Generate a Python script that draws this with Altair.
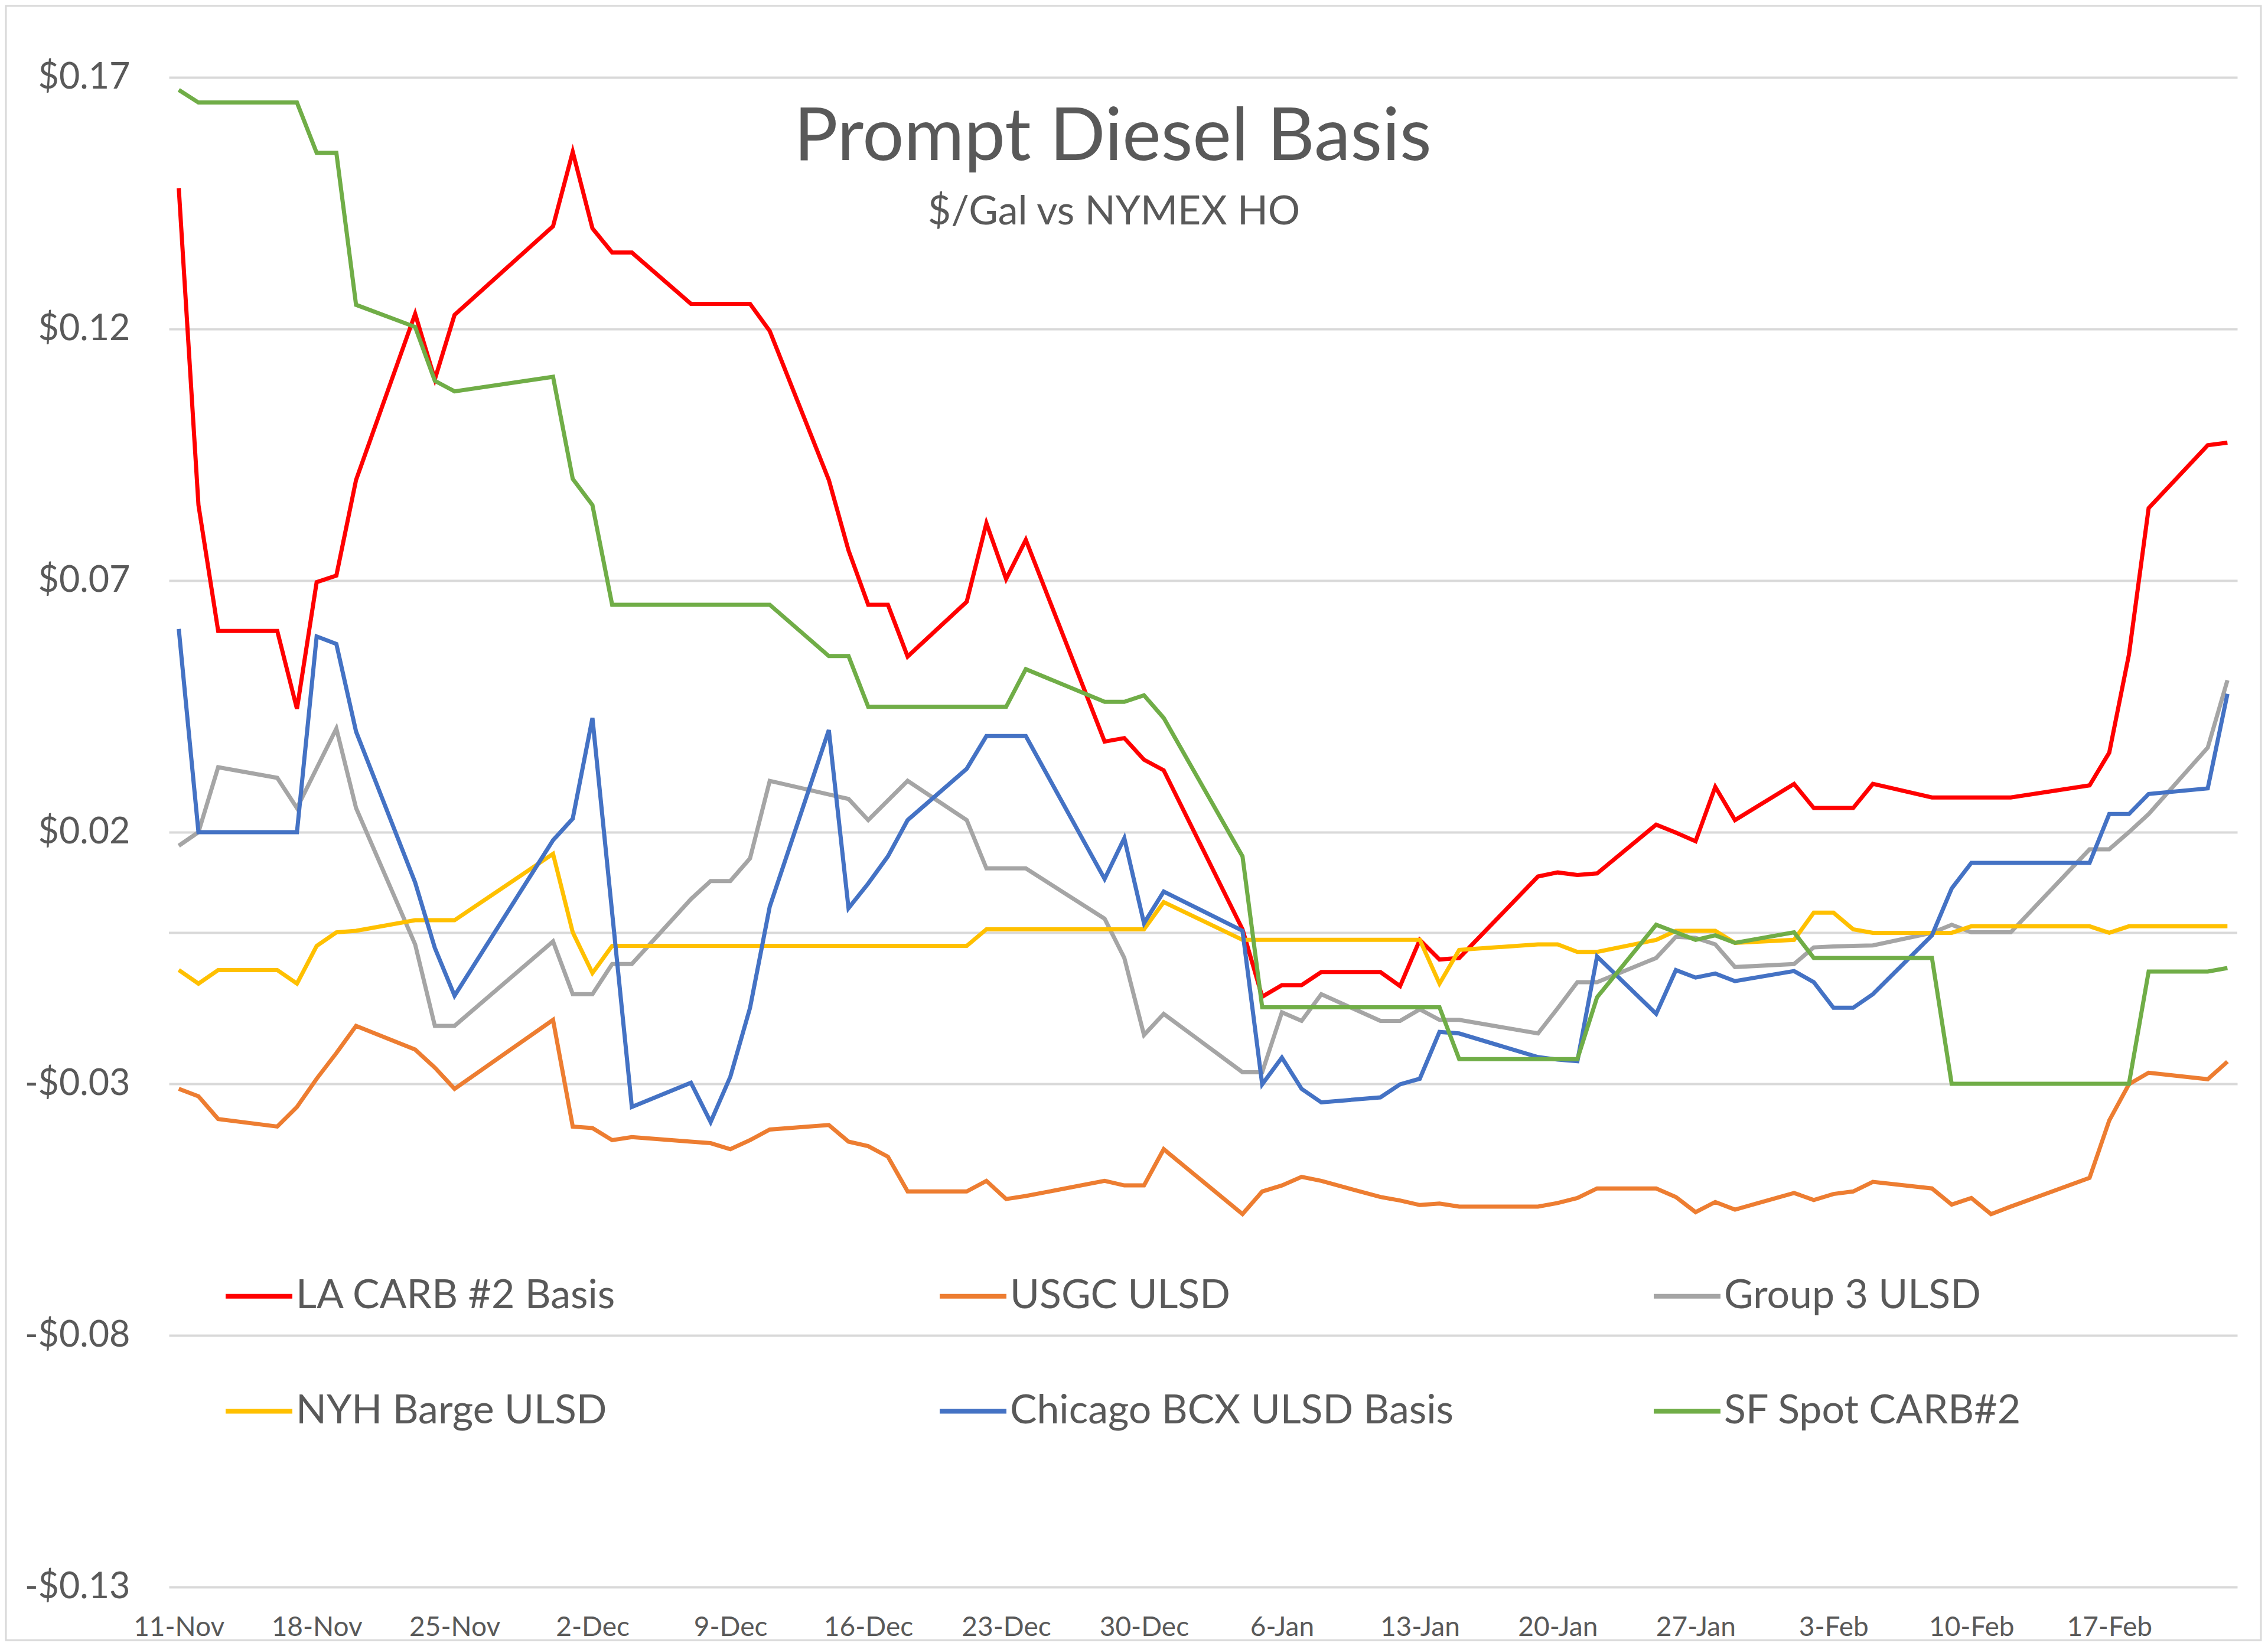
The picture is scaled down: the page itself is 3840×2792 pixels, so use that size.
import altair as alt
import pandas as pd

# ---------------- data ----------------
dates = [
    "2020-11-11", "2020-11-12", "2020-11-13", "2020-11-16", "2020-11-17", "2020-11-18",
    "2020-11-19", "2020-11-20", "2020-11-23", "2020-11-24", "2020-11-25", "2020-11-30",
    "2020-12-01", "2020-12-02", "2020-12-03", "2020-12-04", "2020-12-07", "2020-12-08",
    "2020-12-09", "2020-12-10", "2020-12-11", "2020-12-14", "2020-12-15", "2020-12-16",
    "2020-12-17", "2020-12-18", "2020-12-21", "2020-12-22", "2020-12-23", "2020-12-24",
    "2020-12-28", "2020-12-29", "2020-12-30", "2020-12-31",
    "2021-01-04", "2021-01-05", "2021-01-06", "2021-01-07", "2021-01-08", "2021-01-11",
    "2021-01-12", "2021-01-13", "2021-01-14", "2021-01-15", "2021-01-19", "2021-01-20",
    "2021-01-21", "2021-01-22", "2021-01-25", "2021-01-26", "2021-01-27", "2021-01-28",
    "2021-01-29",
    "2021-02-01", "2021-02-02", "2021-02-03", "2021-02-04", "2021-02-05", "2021-02-08",
    "2021-02-09", "2021-02-10", "2021-02-11", "2021-02-12", "2021-02-16", "2021-02-17",
    "2021-02-18", "2021-02-19", "2021-02-22", "2021-02-23",
]

la_carb = [
    0.148, 0.085, 0.060, 0.060, 0.0445, 0.0697, 0.071, 0.090, 0.123, 0.110, 0.1228, 0.1404,
    0.1552, 0.140, 0.1352, 0.1352, 0.125, 0.125, 0.125, 0.125, 0.1196, 0.090, 0.076, 0.0652,
    0.0652, 0.0549, 0.0658, 0.0814, 0.0703, 0.0781, 0.038, 0.0387, 0.0344, 0.0323,
    0.0007, -0.0127, -0.0104, -0.0104, -0.0078, -0.0078, -0.0106, -0.0014, -0.0053, -0.005,
    0.0112, 0.012, 0.0115, 0.0118, 0.0215, 0.0199, 0.0182, 0.029, 0.0224,
    0.0296, 0.0248, 0.0248, 0.0248, 0.0296, 0.0269, 0.0269, 0.0269, 0.0269, 0.0269, 0.0293,
    0.0358, 0.0553, 0.0844, 0.0969, 0.0974,
]

usgc = [
    -0.031, -0.0325, -0.037, -0.0385, -0.0346, -0.029, -0.0239, -0.0185, -0.0232, -0.0268, -0.031, -0.0173,
    -0.0385, -0.0388, -0.0412, -0.0406, -0.0415, -0.0418, -0.043, -0.0412, -0.0391, -0.0382, -0.0415, -0.0424,
    -0.0445, -0.0514, -0.0514, -0.0493, -0.0529, -0.0523, -0.0493, -0.0502, -0.0502, -0.043,
    -0.0559, -0.0514, -0.0502, -0.0485, -0.0493, -0.0525, -0.0532, -0.0541, -0.0538, -0.0544,
    -0.0544, -0.0537, -0.0527, -0.0508, -0.0508, -0.0525, -0.0555, -0.0535, -0.055,
    -0.0517, -0.0531, -0.0519, -0.0514, -0.0495, -0.0508, -0.054, -0.0527, -0.0559, -0.0544, -0.0487,
    -0.0373, -0.0301, -0.0278, -0.0291, -0.0256,
]

group3 = [
    0.0173, 0.020, 0.0329, 0.0308, 0.0248, 0.0327, 0.0406, 0.0248, -0.0023, -0.0185, -0.0185, -0.0017,
    -0.0122, -0.0122, -0.0062, -0.0062, 0.0067, 0.0103, 0.0103, 0.0148, 0.0302, 0.0275, 0.0266, 0.0224,
    0.0263, 0.0302, 0.0224, 0.0128, 0.0128, 0.0128, 0.0028, -0.005, -0.0203, -0.0161,
    -0.0277, -0.0277, -0.0158, -0.0175, -0.0122, -0.0175, -0.0175, -0.0152, -0.0173, -0.0173,
    -0.020, -0.015, -0.0098, -0.0098, -0.005, -0.0008, -0.001, -0.0023, -0.0068,
    -0.0062, -0.0029, -0.0027, -0.0026, -0.0025, 0.0, 0.0016, 0.0001, 0.0001, 0.0001, 0.0166,
    0.0166, 0.020, 0.0236, 0.0368, 0.0502,
]

nyh = [
    -0.0074, -0.0101, -0.0074, -0.0074, -0.0101, -0.0026, 0.0001, 0.0004, 0.0025, 0.0025, 0.0025, 0.0157,
    0.0001, -0.008, -0.0026, -0.0026, -0.0026, -0.0026, -0.0026, -0.0026, -0.0026, -0.0026, -0.0026, -0.0026,
    -0.0026, -0.0026, -0.0026, 0.0007, 0.0007, 0.0007, 0.0007, 0.0007, 0.0007, 0.0061,
    -0.0014, -0.0014, -0.0014, -0.0014, -0.0014, -0.0014, -0.0014, -0.0014, -0.0101, -0.0034,
    -0.0023, -0.0023, -0.0038, -0.0038, -0.0014, 0.0004, 0.0004, 0.0004, -0.002,
    -0.0014, 0.004, 0.004, 0.0007, 0.0, 0.0, 0.0, 0.0013, 0.0013, 0.0013, 0.0013,
    0.0, 0.0013, 0.0013, 0.0013, 0.0013,
]

chicago = [
    0.0604, 0.020, 0.020, 0.020, 0.020, 0.0589, 0.0574, 0.040, 0.010, -0.003, -0.0125, 0.0184,
    0.0227, 0.0427, 0.004, -0.0346, -0.0298, -0.0376, -0.0286, -0.0149, 0.0052, 0.0403, 0.0049, 0.0098,
    0.0152, 0.0224, 0.0326, 0.0391, 0.0391, 0.0391, 0.0107, 0.0188, 0.0019, 0.0082,
    0.0004, -0.0301, -0.0248, -0.031, -0.0337, -0.0327, -0.0301, -0.029, -0.0197, -0.02,
    -0.0247, -0.0252, -0.0255, -0.0047, -0.0161, -0.0074, -0.0089, -0.0081, -0.0096,
    -0.0076, -0.0098, -0.0149, -0.0149, -0.0122, -0.0005, 0.0088, 0.0139, 0.0139, 0.0139, 0.0139,
    0.0236, 0.0236, 0.0276, 0.0287, 0.0475,
]

sf_spot = [
    0.1675, 0.165, 0.165, 0.165, 0.165, 0.155, 0.155, 0.1248, 0.1204, 0.1097, 0.1076, 0.1105,
    0.0902, 0.085, 0.0652, 0.0652, 0.0652, 0.0652, 0.0652, 0.0652, 0.0652, 0.055, 0.055, 0.0449,
    0.0449, 0.0449, 0.0449, 0.0449, 0.0449, 0.0524, 0.0459, 0.0459, 0.0472, 0.0427,
    0.0152, -0.0148, -0.0148, -0.0148, -0.0148, -0.0148, -0.0148, -0.0148, -0.0148, -0.0251,
    -0.0251, -0.0251, -0.0251, -0.0128, 0.0016, 0.0001, -0.0014, -0.0005, -0.002,
    0.0001, -0.005, -0.005, -0.005, -0.005, -0.005, -0.030, -0.030, -0.030, -0.030, -0.030,
    -0.030, -0.030, -0.0077, -0.0077, -0.007,
]

series_names = ["LA CARB #2 Basis", "USGC ULSD", "Group 3 ULSD",
                "NYH Barge ULSD", "Chicago BCX ULSD Basis", "SF Spot CARB#2"]
series_colors = ["#FF0000", "#ED7D31", "#A5A5A5", "#FFC000", "#4472C4", "#70AD47"]
series_values = [la_carb, usgc, group3, nyh, chicago, sf_spot]

y_ticks = [-0.13, -0.08, -0.03, 0.02, 0.07, 0.12, 0.17]
x_tick_dates = ["2020-11-11", "2020-11-18", "2020-11-25", "2020-12-02", "2020-12-09",
                "2020-12-16", "2020-12-23", "2020-12-30", "2021-01-06", "2021-01-13",
                "2021-01-20", "2021-01-27", "2021-02-03", "2021-02-10", "2021-02-17"]

title_text = "Prompt Diesel Basis"
subtitle_text = "$/Gal vs NYMEX HO"

# ---------------- build table ----------------
rows = []
for name, vals in zip(series_names, series_values):
    assert len(vals) == len(dates), (name, len(vals))
    for d, v in zip(dates, vals):
        if v is not None:
            rows.append({"date": d, "value": v, "series": name})
df = pd.DataFrame(rows)


def dt(s, hours=0):
    y, m, d = (int(p) for p in s.split("-"))
    return alt.DateTime(year=y, month=m, date=d, hours=hours, utc=True)


FONT = "Lato"
TEXT_COLOR = "#595959"
GRID_COLOR = "#D9D9D9"

x_scale = alt.Scale(type="utc", domain=[dt("2020-11-10", 12), dt("2021-02-23", 12)])
y_scale = alt.Scale(domain=[-0.13, 0.17], nice=False, zero=False)

x_axis = alt.Axis(values=[dt(s) for s in x_tick_dates], format="%-d-%b", title=None,
                  grid=False, domain=False, ticks=False, labelFlush=False, labelOverlap=False,
                  labelFont=FONT, labelFontSize=46, labelColor=TEXT_COLOR, labelPadding=46)
y_axis = alt.Axis(values=y_ticks, title=None, grid=True, gridColor=GRID_COLOR, gridWidth=4,
                  domain=False, ticks=False, labelFont=FONT, labelFontSize=61,
                  labelColor=TEXT_COLOR, labelPadding=66,
                  labelExpr="(datum.value < 0 ? '-' : '') + '$' + format(abs(datum.value), '.2f')")

legend = alt.Legend(orient="none", legendX=92, legendY=2003, direction="horizontal", columns=3,
                    title=None, symbolType="stroke", symbolSize=12769, symbolStrokeWidth=8,
                    labelFont=FONT, labelFontSize=68, labelColor=TEXT_COLOR, labelLimit=3000,
                    labelOffset=2, columnPadding=322, rowPadding=100, gridAlign="all", padding=0)

color = alt.Color("series:N", scale=alt.Scale(domain=series_names, range=series_colors),
                  legend=legend)

layers = []

# outer chart border
layers.append(
    alt.Chart(pd.DataFrame({"k": [0]})).mark_rect(fillOpacity=0, stroke=GRID_COLOR, strokeWidth=3)
    .encode(x=alt.value(-276), x2=alt.value(3542), y=alt.value(-121), y2=alt.value(2646))
)

# horizontal category axis line at zero
layers.append(
    alt.Chart(pd.DataFrame({"zero": [0.0]})).mark_rule(color=GRID_COLOR, strokeWidth=4)
    .encode(y=alt.Y("zero:Q", scale=y_scale, axis=y_axis))
)

for name in series_names:
    layers.append(
        alt.Chart(df).transform_filter(alt.datum.series == name)
        .mark_line(strokeWidth=7)
        .encode(x=alt.X("date:T", scale=x_scale, axis=x_axis),
                y=alt.Y("value:Q", scale=y_scale, axis=y_axis),
                color=color)
    )

layers.append(
    alt.Chart(pd.DataFrame({"t": [title_text]})).mark_text(
        font=FONT, fontSize=124, color=TEXT_COLOR, align="center", baseline="alphabetic")
    .encode(text="t:N", x=alt.value(1598), y=alt.value(140))
)
layers.append(
    alt.Chart(pd.DataFrame({"t": [subtitle_text]})).mark_text(
        font=FONT, fontSize=68, color=TEXT_COLOR, align="center", baseline="alphabetic")
    .encode(text="t:N", x=alt.value(1600), y=alt.value(249))
)

chart = alt.layer(*layers).properties(
    width=3502, height=2556,
    autosize=alt.AutoSizeParams(type="none"),
    padding={"left": 278, "top": 123, "right": 42, "bottom": 92},
    background="white",
).configure_view(strokeWidth=0)

chart.save("out.html", embed_options={"renderer": "svg", "actions": False})
